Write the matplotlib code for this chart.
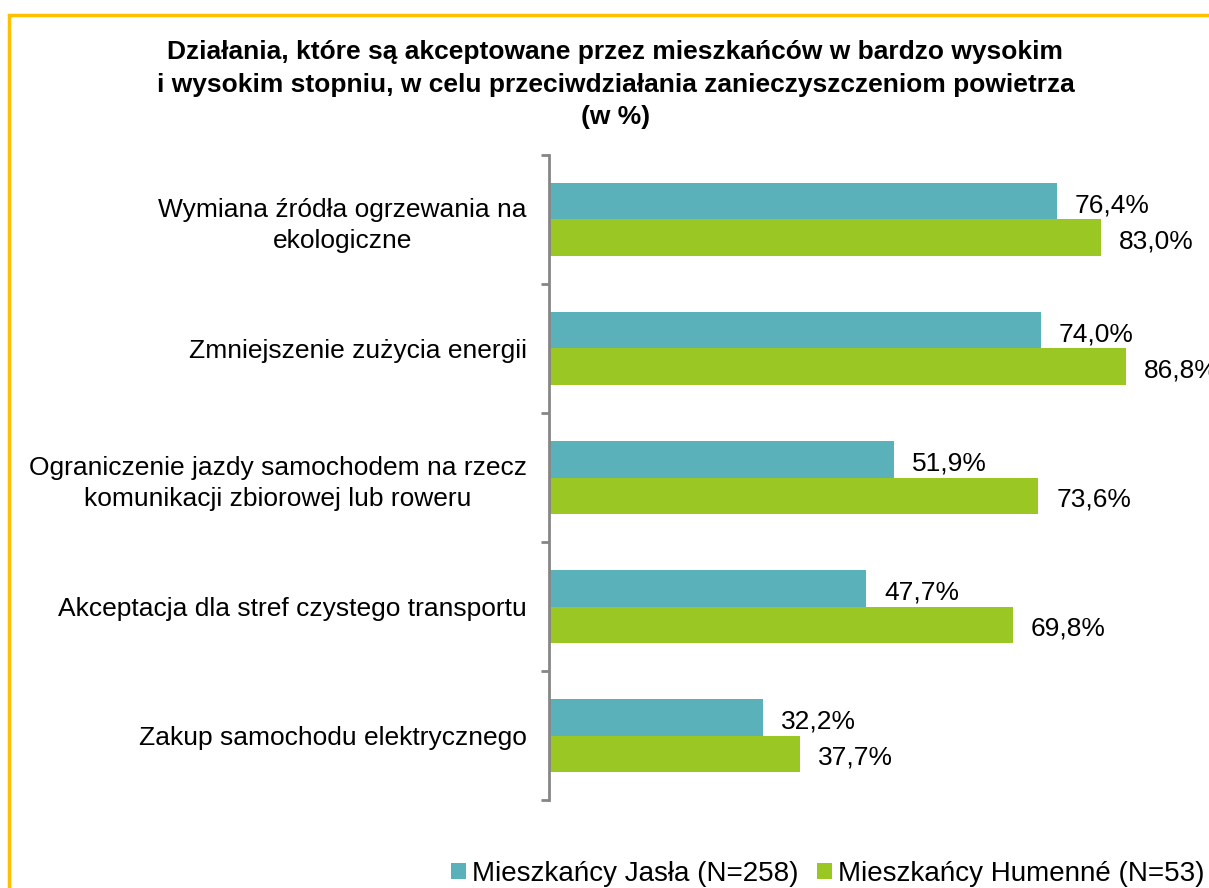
import matplotlib
matplotlib.use('Agg')
import matplotlib.pyplot as plt
from matplotlib.patches import Rectangle
import numpy as np

categories = [
    'Wymiana źródła ogrzewania na\nekologiczne',
    'Zmniejszenie zużycia energii',
    'Ograniczenie jazdy samochodem na rzecz\nkomunikacji zbiorowej lub roweru',
    'Akceptacja dla stref czystego transportu',
    'Zakup samochodu elektrycznego',
]
jaslo = [76.4, 74.0, 51.9, 47.7, 32.2]
humenne = [83.0, 86.8, 73.6, 69.8, 37.7]
series_names = ['Mieszkańcy Jasła (N=258)', 'Mieszkańcy Humenné (N=53)']
colors = ['#5BB1BA', '#9BC724']
title = ('Działania, które są akceptowane przez mieszkańców w bardzo wysokim\n'
         'i wysokim stopniu, w celu przeciwdziałania zanieczyszczeniom powietrza\n'
         '(w %)')

plt.rcParams['font.family'] = ['Liberation Sans', 'DejaVu Sans']

fig = plt.figure(figsize=(12.09, 8.88), dpi=100)
fig.patches.append(Rectangle((9 / 1209, -0.05), 1.1, 1 - 15 / 888 + 0.05,
                             transform=fig.transFigure, fill=False,
                             edgecolor='#FFC000', linewidth=2.5))

ax = fig.add_axes([549 / 1209, 0.099, 1 - 549 / 1209, 0.7265])

y = np.arange(len(categories))
h = 0.283
b1 = ax.barh(y - h / 2, jaslo, height=h, color=colors[0], label=series_names[0])
b2 = ax.barh(y + h / 2, humenne, height=h, color=colors[1], label=series_names[1])

for bars, vals in ((b1, jaslo), (b2, humenne)):
    for rect, v in zip(bars, vals):
        ax.annotate(f'{v:.1f}%'.replace('.', ','),
                    (rect.get_width(), rect.get_y() + rect.get_height() / 2),
                    xytext=(13, -3), textcoords='offset points',
                    ha='left', va='center', fontsize=19, clip_on=False)

ax.set_xlim(0, 99.3)
ax.set_ylim(len(categories) - 0.5, -0.5)
ax.set_xticks([])
ax.set_yticks(y)
ax.set_yticklabels(categories, fontsize=19, ma='center', linespacing=1.37)
ax.set_yticks(np.arange(-0.5, len(categories), 1), minor=True)
ax.tick_params(axis='y', which='major', length=0, pad=16)
ax.tick_params(axis='y', which='minor', length=6, width=2, color='#868686',
               direction='out')
for s in ('top', 'right', 'bottom'):
    ax.spines[s].set_visible(False)
ax.spines['left'].set_color('#868686')
ax.spines['left'].set_linewidth(2)

fig.text(0.509, 0.955, title, ha='center', va='top', fontsize=19,
         fontweight='bold', linespacing=1.45)

leg = fig.legend(handles=[b1, b2], loc='lower right',
                 bbox_to_anchor=(1.017, -0.027), ncol=2, frameon=False,
                 prop={'size': 20},
                 handlelength=0.54, handleheight=0.54, handletextpad=0.2,
                 columnspacing=0.7)

fig.savefig('out.png', dpi=100)
